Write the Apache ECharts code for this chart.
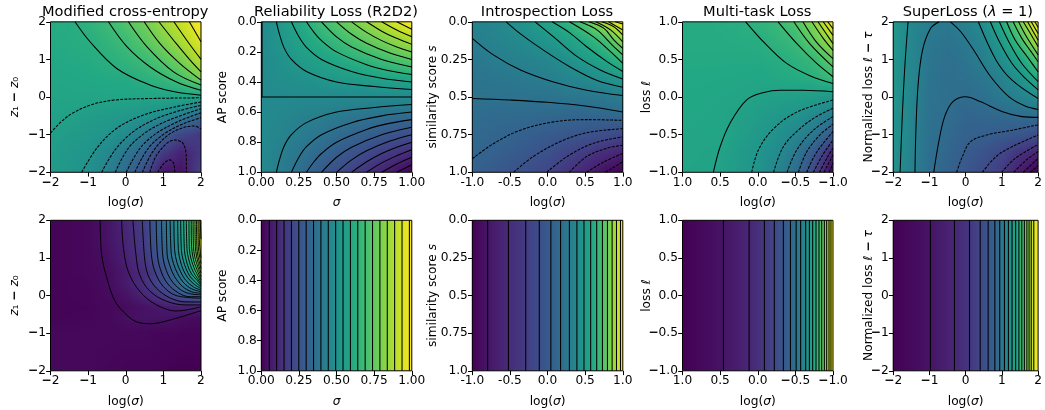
<!DOCTYPE html>
<html><head><meta charset="utf-8">
<style>html,body{margin:0;padding:0;background:#fff}#c{width:1045px;height:410px}</style>
<script src="https://cdn.jsdelivr.net/npm/echarts@6/dist/echarts.min.js"></script>
</head><body><div id="c"></div>
<script>
// ---------- Panel titles and axis labels ----------
const titles = ['Modified cross-entropy','Reliability Loss (R2D2)','Introspection Loss','Multi-task Loss','SuperLoss ({i|λ} = 1)'];
const xNames = ['log({i|σ})','{i|σ}','log({i|σ})','log({i|σ})','log({i|σ})'];
const yNames = ['{i|z}₁ {b|−} {i|z}₀','AP score','similarity score {i|s}','loss {i|ℓ}','Normalized loss {i|ℓ} {b|−} {i|τ}'];
const tickA = ['−2','−1','0','1','2'];
const tickB = ['0.00','0.25','0.50','0.75','1.00'];
const tickC = ['0.0','0.2','0.4','0.6','0.8','1.0'];
const tickD = ['-1.0','-0.5','0.0','0.5','1.0'];
const tickE = ['0.0','0.25','0.5','0.75','1.0'];
const tickF = ['−1.0','−0.5','0.0','0.5','1.0'];

// ---------- Colour values (0..1 on viridis) read at grid nodes ----------
const gx1 = [-2,-1.5,-1,-.5,0,.5,1,1.5,2];
const gy1 = [2,1.5,1,.5,0,-.5,-1,-1.5,-2];
const heat1 = [
 [.61,.615,.64,.672,.725,.785,.856,.925,1],
 [.605,.61,.62,.65,.68,.74,.80,.875,.955],
 [.60,.605,.61,.625,.65,.68,.735,.80,.895],
 [.59,.595,.60,.605,.61,.635,.66,.71,.80],
 [.58,.585,.585,.585,.585,.585,.585,.585,.57],
 [.57,.565,.55,.54,.53,.51,.48,.42,.33],
 [.56,.545,.53,.515,.475,.40,.30,.205,.165],
 [.55,.53,.515,.465,.39,.31,.17,.09,.17],
 [.54,.525,.50,.44,.345,.235,.06,.05,.20]];
const gx2 = [0,.125,.25,.375,.5,.625,.75,.875,1];
const gy2 = [0,.125,.25,.375,.5,.625,.75,.875,1];
const heat2 = [
 [.47,.53,.60,.67,.74,.80,.87,.94,1],
 [.47,.52,.57,.62,.67,.72,.77,.82,.875],
 [.47,.50,.54,.57,.60,.64,.67,.71,.74],
 [.47,.49,.50,.52,.54,.55,.57,.59,.60],
 [.47,.47,.47,.47,.47,.47,.47,.47,.47],
 [.47,.46,.44,.43,.41,.39,.38,.36,.35],
 [.47,.45,.42,.39,.35,.32,.29,.26,.235],
 [.47,.43,.39,.34,.29,.25,.20,.16,.12],
 [.47,.42,.36,.29,.235,.18,.12,.06,0]];
const gx3 = [-1,-.75,-.5,-.25,0,.25,.5,.75,1];
const gy3 = [0,.125,.25,.375,.5,.625,.75,.875,1];
const heat3 = [
 [.44,.45,.485,.525,.58,.64,.73,.885,1],
 [.42,.44,.46,.48,.52,.56,.615,.68,.82],
 [.395,.415,.43,.445,.46,.495,.54,.59,.665],
 [.385,.39,.40,.41,.425,.45,.47,.50,.535],
 [.375,.375,.375,.38,.38,.39,.395,.405,.42],
 [.355,.345,.345,.34,.335,.33,.325,.33,.34],
 [.345,.33,.315,.30,.285,.27,.255,.235,.215],
 [.325,.31,.29,.27,.245,.205,.17,.125,.095],
 [.31,.285,.26,.235,.205,.155,.10,.04,0]];
const gx4 = [1,.75,.5,.25,0,-.25,-.5,-.75,-1];
const gy4 = [1,.75,.5,.25,0,-.25,-.5,-.75,-1];
const heat4 = [
 [.61,.61,.612,.62,.645,.668,.72,.82,1],
 [.61,.61,.61,.612,.615,.645,.67,.755,.865],
 [.605,.605,.605,.605,.605,.615,.635,.665,.76],
 [.60,.60,.598,.595,.592,.60,.61,.627,.675],
 [.598,.595,.59,.585,.57,.565,.56,.55,.53],
 [.595,.59,.585,.565,.55,.53,.51,.465,.41],
 [.59,.585,.585,.56,.535,.50,.46,.40,.27],
 [.585,.58,.575,.545,.515,.48,.405,.27,.09],
 [.58,.578,.57,.54,.51,.45,.36,.21,.02]];
const gx5 = [-2,-1.5,-1,-.5,0,.5,1,1.5,2];
const gy5 = [2,1.5,1,.5,0,-.5,-1,-1.5,-2];
const heat5 = [
 [.53,.46,.42,.405,.44,.495,.61,.79,1],
 [.52,.46,.40,.38,.405,.45,.545,.69,.89],
 [.515,.46,.39,.365,.385,.43,.49,.58,.73],
 [.515,.46,.385,.36,.37,.395,.44,.505,.61],
 [.515,.455,.38,.365,.35,.37,.405,.44,.48],
 [.51,.45,.375,.355,.325,.33,.34,.35,.355],
 [.51,.45,.37,.34,.31,.30,.285,.265,.23],
 [.505,.445,.365,.33,.285,.255,.21,.145,.095],
 [.50,.44,.36,.315,.27,.225,.17,.075,0]];
const gx6 = [-2,-1,-.5,0,.5,1,1.25,1.5,1.75,1.9,2];
const gy6 = [2,1.5,1,.6,.3,0,-.3,-.6,-1,-2];
const heat6 = [
 [.01,.02,.05,.11,.19,.34,.435,.56,.72,.87,1],
 [.01,.02,.05,.10,.18,.32,.42,.55,.70,.85,.98],
 [.01,.02,.04,.09,.16,.28,.38,.50,.66,.80,.93],
 [.01,.02,.03,.07,.13,.23,.31,.41,.55,.72,.82],
 [.01,.015,.03,.07,.135,.23,.28,.37,.45,.56,.63],
 [.01,.015,.025,.05,.10,.165,.215,.26,.29,.31,.32],
 [.01,.012,.02,.03,.05,.07,.08,.09,.09,.09,.09],
 [.01,.015,.02,.04,.05,.05,.048,.035,.03,.03,.03],
 [.02,.02,.02,.02,.02,.015,.015,.01,.01,.01,.01],
 [.02,.02,.015,.01,.01,.005,0,0,0,0,0]];
const stripeX7 = [0,.25,.5,.75,1];
const stripeV7 = [0,.25,.5,.75,1];
const stripeX8 = [-1,-.796,-.52,-.29,-.11,.044,.173,.29,.39,.484,.573,.653,.729,.796,.858,.916,.969,1];
const stripeV8 = [0,.059,.118,.176,.235,.294,.353,.412,.47,.53,.588,.647,.706,.765,.824,.882,.941,1];
const stripeX9 = [1,.456,.115,-.088,-.22,-.34,-.434,-.51,-.57,-.637,-.686,-.73,-.774,-.814,-.85,-.885,-.916,-.947,-.973,-1];
const stripeV9 = [0,.053,.105,.158,.21,.263,.316,.368,.42,.474,.526,.579,.632,.684,.737,.79,.842,.895,.947,1];
const stripeX10 = [-2,-.973,-.31,.106,.4,.62,.805,.94,1.07,1.18,1.28,1.38,1.47,1.55,1.62,1.69,1.75,1.81,1.88,2];
const stripeV10 = [0,.053,.105,.158,.21,.263,.316,.368,.42,.474,.526,.579,.632,.684,.737,.79,.842,.895,.947,1];

// ---------- Contour lines ----------
const solid1 = [
 [[-1.35,2],[-.95,1.47],[-.24,.76],[.64,.32],[1.3,.14],[2,.05]],
 [[-.46,2],[.03,1.34],[.65,.8],[1.35,.4],[2,.18]],
 [[.07,2],[.56,1.34],[1.27,.67],[2,.32]],
 [[.49,2],[.91,1.42],[1.44,.89],[2,.45]],
 [[.88,2],[1.27,1.51],[1.71,.98],[2,.67]],
 [[1.28,2],[1.62,1.51],[2,1]],
 [[1.69,2],[2,1.47]]];
const dashed1 = [
 [[-2,-.96],[-1.72,-.66],[-1.4,-.42],[-.9,-.2],[-.3,-.08],[.6,-.04],[2,-.02]],
 [[-1.17,-2],[-.77,-1.36],[-.24,-.83],[.47,-.48],[1.27,-.27],[2,-.13]],
 [[-.64,-2],[-.28,-1.4],[.2,-.92],[.82,-.57],[1.44,-.36],[2,-.22]],
 [[-.28,-2],[.07,-1.36],[.56,-.92],[1.18,-.6],[2,-.31]],
 [[.01,-2],[.38,-1.36],[.82,-.96],[1.44,-.63],[2,-.42]],
 [[.24,-2],[.6,-1.36],[1.05,-.96],[1.6,-.68],[2,-.55]],
 [[.44,-2],[.72,-1.45],[1.1,-1.03],[1.5,-.82],[1.83,-.77],[2,-.85]],
 [[.64,-2],[.85,-1.5],[1.3,-1.14],[1.52,-1.23],[1.61,-1.63],[1.61,-2]],
 [[.85,-2],[1.0,-1.78],[1.17,-1.67],[1.28,-1.78],[1.3,-2]]];
const solid2 = [
 [[0.005,0],[0.005,.5]],
 [[0,.5],[1,.5]],
 [[.1,0],[.12,.08],[.15,.17],[.2,.25],[.3,.33],[.5,.4],[.75,.43],[1,.45]],
 [[.2,0],[.25,.1],[.3,.17],[.4,.25],[.6,.33],[.8,.375],[1,.4]],
 [[.3,0],[.35,.07],[.4,.125],[.5,.2],[.7,.285],[.85,.325],[1,.35]],
 [[.4,0],[.5,.1],[.6,.167],[.8,.25],[1,.3]],
 [[.5,0],[.6,.083],[.7,.143],[.85,.206],[1,.25]],
 [[.6,0],[.7,.07],[.8,.125],[.9,.167],[1,.2]],
 [[.7,0],[.8,.0625],[.9,.11],[1,.15]],
 [[.8,0],[.9,.055],[1,.1]],
 [[.9,0],[1,.05]],
 [[.1,1],[.12,.92],[.15,.83],[.2,.75],[.3,.67],[.5,.6],[.75,.57],[1,.55]],
 [[.2,1],[.25,.9],[.3,.83],[.4,.75],[.6,.67],[.8,.625],[1,.6]],
 [[.3,1],[.35,.93],[.4,.875],[.5,.8],[.7,.715],[.85,.675],[1,.65]],
 [[.4,1],[.5,.9],[.6,.833],[.8,.75],[1,.7]],
 [[.5,1],[.6,.917],[.7,.857],[.85,.794],[1,.75]],
 [[.6,1],[.7,.93],[.8,.875],[.9,.833],[1,.8]],
 [[.7,1],[.8,.9375],[.9,.89],[1,.85]],
 [[.8,1],[.9,.945],[1,.9]],
 [[.9,1],[1,.95]]];
const dashed2 = [];
const solid3 = [
 [[-1,.51],[-.5,.52],[0,.535],[.5,.56],[1,.6]],
 [[-1,.11],[-.72,.22],[-.36,.32],[.08,.4],[.52,.455],[1,.49]],
 [[-.55,0],[-.36,.08],[-.05,.19],[.3,.3],[.66,.39],[1,.435]],
 [[-.165,0],[.08,.1],[.39,.23],[.7,.32],[1,.38]],
 [[.06,0],[.3,.075],[.52,.166],[.79,.265],[1,.33]],
 [[.29,0],[.61,.1],[.84,.2],[1,.277]],
 [[.43,0],[.66,.055],[.86,.155],[1,.22]],
 [[.55,0],[.75,.044],[.88,.12],[1,.177]],
 [[.64,0],[.84,.055],[1,.133]],
 [[.72,0],[.88,.033],[1,.088]],
 [[.81,0],[1,.055]],
 [[.9,0],[1,.015]]];
const dashed3 = [
 [[-1,.91],[-.72,.81],[-.36,.72],[.08,.665],[.52,.65],[1,.655]],
 [[-.45,1],[-.19,.895],[.17,.796],[.52,.737],[1,.71]],
 [[-.01,1],[.26,.895],[.61,.807],[1,.765]],
 [[.29,1],[.52,.895],[.79,.84],[1,.82]],
 [[.52,1],[.75,.93],[1,.875]],
 [[.77,1],[1,.93]]];
const solid4 = [
 [[.59,-1],[.5,-.66],[.37,-.35],[.15,-.04],[-.08,.06],[-.3,.09],[-.6,.09],[-1,.07]],
 [[.16,1],[-.08,.73],[-.38,.45],[-.7,.28],[-1,.18]],
 [[-.27,1],[-.52,.71],[-.78,.45],[-1,.27]],
 [[-.48,1],[-.69,.71],[-1,.4]],
 [[-.6,1],[-.78,.73],[-1,.51]],
 [[-.72,1],[-.87,.78],[-1,.62]],
 [[-.8,1],[-1,.71]],
 [[-.87,1],[-1,.82]],
 [[-.93,1],[-1,.91]]];
const dashed4 = [
 [[.08,-1],[-.01,-.7],[-.21,-.42],[-.52,-.2],[-1,-.04]],
 [[-.21,-1],[-.34,-.66],[-.56,-.42],[-.78,-.26],[-1,-.15]],
 [[-.39,-1],[-.52,-.7],[-.74,-.44],[-1,-.26]],
 [[-.54,-1],[-.65,-.73],[-.83,-.5],[-1,-.36]],
 [[-.65,-1],[-.76,-.77],[-.89,-.59],[-1,-.46]],
 [[-.74,-1],[-.85,-.79],[-1,-.57]],
 [[-.82,-1],[-.92,-.81],[-1,-.68]],
 [[-.88,-1],[-1,-.77]],
 [[-.95,-1],[-1,-.88]]];
const solid5 = [
 [[-1.59,2],[-1.68,.8],[-1.75,-.52],[-1.81,-2]],
 [[-.73,2],[-.97,1.82],[-1.19,1.25],[-1.31,.36],[-1.37,-.79],[-1.4,-2]],
 [[-.42,2],[-.13,1.73],[.22,1.25],[.66,.58],[1.19,.01],[1.64,-.24],[2,-.33]],
 [[-.88,-2],[-.75,-1.23],[-.58,-.52],[-.35,-.12],[0,.01],[.4,-.12],[1.02,-.39],[1.55,-.52],[2,-.54]],
 [[.35,2],[.84,.98],[1.28,.45],[2,-.04]],
 [[.68,2],[.93,1.47],[1.28,.89],[1.64,.5],[2,.19]],
 [[.93,2],[1.19,1.47],[1.55,.89],[2,.41]],
 [[1.13,2],[1.37,1.51],[1.73,1.03],[2,.67]],
 [[1.31,2],[1.55,1.56],[1.81,1.2],[2,.94]],
 [[1.46,2],[1.68,1.6],[2,1.12]],
 [[1.59,2],[1.81,1.65],[2,1.34]],
 [[1.71,2],[2,1.51]],
 [[1.81,2],[2,1.69]],
 [[1.91,2],[2,1.85]]];
const dashed5 = [
 [[-.25,-2],[-.09,-1.58],[.13,-1.19],[.58,-1.01],[1.28,-.88],[2,-.74]],
 [[.46,-2],[.84,-1.58],[1.28,-1.32],[2,-1.01]],
 [[.99,-2],[1.37,-1.63],[2,-1.26]],
 [[1.33,-2],[1.68,-1.67],[2,-1.45]],
 [[1.59,-2],[2,-1.63]],
 [[1.79,-2],[2,-1.82]]];
const solid6 = [
 [[-.68,2],[-.64,1.08],[-.5,.46],[-.28,-.16],[.03,-.52],[.29,-.7],[.65,-.75],[1.18,-.65],[2,-.4]],
 [[-.11,2],[-.06,1.25],[.07,.63],[.38,.1],[.82,-.25],[1.35,-.41],[2,-.3]],
 [[.19,2],[.27,1.09],[.37,.55],[.64,.12],[1.08,-.15],[1.6,-.25],[2,-.25]],
 [[.44,2],[.5,1],[.59,.55],[.81,.2],[1.17,-.06],[1.6,-.17],[2,-.17]],
 [[.64,2],[.68,1.1],[.77,.65],[.99,.25],[1.34,0],[2,-.07]],
 [[.81,2],[.84,1.1],[.92,.7],[1.1,.33],[1.4,.07],[1.7,-.03],[2,-.03]],
 [[.95,2],[.98,1.1],[1.05,.75],[1.2,.42],[1.45,.16],[1.7,.05],[2,.02]],
 [[1.08,2],[1.1,1.1],[1.17,.8],[1.3,.5],[1.5,.25],[1.75,.1],[2,.06]],
 [[1.18,2],[1.21,1.1],[1.27,.85],[1.38,.58],[1.55,.33],[1.75,.18],[2,.1]],
 [[1.28,2],[1.3,1.2],[1.36,.88],[1.46,.63],[1.6,.4],[1.8,.23],[2,.14]],
 [[1.38,2],[1.4,1.2],[1.45,.92],[1.53,.68],[1.65,.47],[1.82,.3],[2,.18]],
 [[1.46,2],[1.48,1.2],[1.53,.93],[1.6,.72],[1.7,.52],[1.85,.36],[2,.22]],
 [[1.54,2],[1.56,1.2],[1.6,.97],[1.66,.76],[1.75,.57],[1.88,.42],[2,.26]],
 [[1.61,2],[1.63,1.2],[1.67,.98],[1.72,.8],[1.8,.62],[1.9,.46],[2,.3]],
 [[1.68,2],[1.69,1.25],[1.73,1],[1.78,.83],[1.85,.66],[1.93,.5],[2,.35]],
 [[1.74,2],[1.75,1.3],[1.78,1.05],[1.83,.85],[1.89,.7],[2,.42]],
 [[1.79,2],[1.8,1.3],[1.83,1.05],[1.88,.87],[2,.5]],
 [[1.84,2],[1.85,1.3],[1.88,1.05],[1.93,.85],[2,.6]],
 [[1.88,2],[1.89,1.3],[1.92,1.05],[2,.72]],
 [[1.92,2],[1.93,1.3],[1.96,1.05],[2,.85]],
 [[1.95,2],[1.96,1.4],[2,1]],
 [[1.98,2],[2,1.5]]];
const lines7 = [.053,.102,.151,.2,.249,.298,.347,.396,.445,.494,.543,.592,.641,.69,.739,.788,.837,.886,.935,.984];
const lines8 = stripeX8.slice(1,-1);
const lines9 = stripeX9.slice(1,-1);
const lines10 = stripeX10.slice(1,-1);

// ---------- Layout and colour palette ----------
const viridis = ['#440154','#482475','#414487','#355f8d','#2a788e','#21918c','#22a884','#44bf70','#7ad151','#bddf26','#fde725'];
const colLeft = [50.5,261.3,472.3,682.5,893.2];
const rowTop = [21.8,220.3];
const boxSize = 150.5;
const nameGapY = [30,32,33,30,18];
const tickFont = 12.2, titleFont = 14.6;

function hexRgb(h){return [1,3,5].map(i=>parseInt(h.substr(i,2),16));}
const vr = viridis.map(hexRgb);
function cmap(v){
  v=Math.max(0,Math.min(1,v))*10;const i=Math.min(9,Math.floor(v)),f=v-i;
  const a=vr[i],b=vr[i+1];
  return 'rgb('+a.map((c,k)=>Math.round(c+(b[k]-c)*f)).join(',')+')';
}
function cells(xs,ys,t){
  const out=[];
  for(let j=0;j<ys.length-1;j++)for(let i=0;i<xs.length-1;i++)
    out.push([xs[i],ys[j],xs[i+1],ys[j+1],t[j][i],t[j][i+1],t[j+1][i],t[j+1][i+1]]);
  return out;
}
function heatSeries(g,data){
  return {type:'custom',xAxisIndex:g,yAxisIndex:g,coordinateSystem:'cartesian2d',silent:true,z:1,clip:true,
    encode:{x:[0,2],y:[1,3]},data,
    renderItem(p,api){
      const a=api.coord([api.value(0),api.value(1)]),b=api.coord([api.value(2),api.value(3)]);
      const v00=api.value(4),v10=api.value(5),v01=api.value(6),v11=api.value(7);
      const x0=Math.round(Math.min(a[0],b[0])),x1=Math.round(Math.max(a[0],b[0]));
      const y0=Math.round(Math.min(a[1],b[1])),y1=Math.round(Math.max(a[1],b[1]));
      const flipX=a[0]>b[0],flipY=a[1]>b[1];
      const kids=[];
      const step=2;
      for(let y=y0;y<y1;y+=step){
        let t=(y+step/2-y0)/Math.max(1,y1-y0); if(flipY)t=1-t;
        const L=v00+(v01-v00)*t,R=v10+(v11-v10)*t;
        const stops=[];
        for(let s=0;s<=6;s++){const q=s/6;stops.push({offset:q,color:cmap(flipX?R+(L-R)*q:L+(R-L)*q)});}
        kids.push({type:'rect',shape:{x:x0,y,width:x1-x0,height:Math.min(step,y1-y)},
          style:{fill:new echarts.graphic.LinearGradient(x0,0,x1,0,stops,true)}});
      }
      return {type:'group',children:kids};
    }};
}
function contour(g,pts,dashed,w){
  return {type:'line',xAxisIndex:g,yAxisIndex:g,data:pts,showSymbol:false,symbol:'none',silent:true,z:3,
    smooth:pts.length>2?0.35:false,clip:true,
    lineStyle:{color:'#000',width:w||1.05,type:dashed?[2.9,1.3]:'solid'}};
}
function frame(g,x0,x1,y0,y1){
  return {type:'line',xAxisIndex:g,yAxisIndex:g,data:[[x0,y0],[x1,y0],[x1,y1],[x0,y1],[x0,y0]],
    showSymbol:false,symbol:'none',silent:true,z:5,clip:false,lineStyle:{color:'#000',width:1}};
}
const fam='"DejaVu Sans"';
const rich={i:{fontStyle:'italic',fontFamily:fam,fontSize:tickFont,color:'#000'},
            b:{fontWeight:'bold',fontFamily:fam,fontSize:tickFont,color:'#000'}};
const richT={i:{fontStyle:'italic',fontFamily:fam,fontSize:titleFont,color:'#000'}};
const boldMinus=s=>s.replace(/−/g,'{b|−}');

const panels=[
 {r:0,c:0,x:[-2,2,1,tickA],y:[-2,2,1,tickA],heat:cells(gx1,gy1,heat1),s:solid1,d:dashed1},
 {r:0,c:1,x:[0,1,.25,tickB],y:[0,1,.2,tickC],yInv:true,heat:cells(gx2,gy2,heat2),s:solid2,d:dashed2},
 {r:0,c:2,x:[-1,1,.5,tickD],y:[0,1,.25,tickE],yInv:true,heat:cells(gx3,gy3,heat3),s:solid3,d:dashed3},
 {r:0,c:3,x:[-1,1,.5,tickF],xInv:true,y:[-1,1,.5,tickF],heat:cells(gx4,gy4,heat4),s:solid4,d:dashed4},
 {r:0,c:4,x:[-2,2,1,tickA],y:[-2,2,1,tickA],heat:cells(gx5,gy5,heat5),s:solid5,d:dashed5},
 {r:1,c:0,x:[-2,2,1,tickA],y:[-2,2,1,tickA],heat:cells(gx6,gy6,heat6),s:solid6,d:[],w:.95},
 {r:1,c:1,x:[0,1,.25,tickB],y:[0,1,.2,tickC],yInv:true,heat:cells(stripeX7,[0,1],[stripeV7,stripeV7]),v:lines7},
 {r:1,c:2,x:[-1,1,.5,tickD],y:[0,1,.25,tickE],yInv:true,heat:cells(stripeX8,[0,1],[stripeV8,stripeV8]),v:lines8},
 {r:1,c:3,x:[-1,1,.5,tickF],xInv:true,y:[-1,1,.5,tickF],heat:cells(stripeX9,[-1,1],[stripeV9,stripeV9]),v:lines9},
 {r:1,c:4,x:[-2,2,1,tickA],y:[-2,2,1,tickA],heat:cells(stripeX10,[-2,2],[stripeV10,stripeV10]),v:lines10}
];
const grid=[],xAxis=[],yAxis=[],series=[],title=[];
panels.forEach((p,g)=>{
  grid.push({left:colLeft[p.c],top:rowTop[p.r],width:boxSize,height:boxSize,containLabel:false});
  const ax=(a,inv,name,gap,isY)=>({type:'value',gridIndex:g,min:a[0],max:a[1],interval:a[2],inverse:!!inv,
    scale:false,splitLine:{show:false},z:6,
    axisLine:{show:false,onZero:false},
    axisTick:{show:true,length:4.3,lineStyle:{color:'#000',width:1}},
    axisLabel:{show:true,margin:4.5,color:'#000',fontFamily:fam,fontSize:tickFont,hideOverlap:false,rich,
      showMinLabel:true,showMaxLabel:true,formatter:(v,i)=>boldMinus(a[3][i])},
    name,nameLocation:'middle',nameGap:gap,nameRotate:isY?90:0,nameMoveOverlap:false,
    nameTextStyle:{color:'#000',fontFamily:fam,fontSize:tickFont,rich}});
  xAxis.push(ax(p.x,p.xInv,xNames[p.c],p.r?25:24.5,false));
  yAxis.push(ax(p.y,p.yInv,yNames[p.c],nameGapY[p.c],true));
  series.push(heatSeries(g,p.heat));
  (p.s||[]).forEach(c=>series.push(contour(g,c,false,p.w)));
  (p.d||[]).forEach(c=>series.push(contour(g,c,true,p.w)));
  (p.v||[]).forEach(x=>series.push(contour(g,[[x,p.y[0]],[x,p.y[1]]],false)));
  series.push(frame(g,p.x[0],p.x[1],p.y[0],p.y[1]));
  if(p.r===0)title.push({text:titles[p.c],left:colLeft[p.c]+boxSize/2-5.5,top:-0.5,textAlign:'center',
    textStyle:{color:'#000',fontFamily:fam,fontSize:titleFont,fontWeight:'normal',rich:richT}});
});
const chart=echarts.init(document.getElementById('c'),null,{renderer:'canvas'});
chart.setOption({animation:false,backgroundColor:'#fff',title,grid,xAxis,yAxis,series,tooltip:{show:false}});
</script></body></html>
